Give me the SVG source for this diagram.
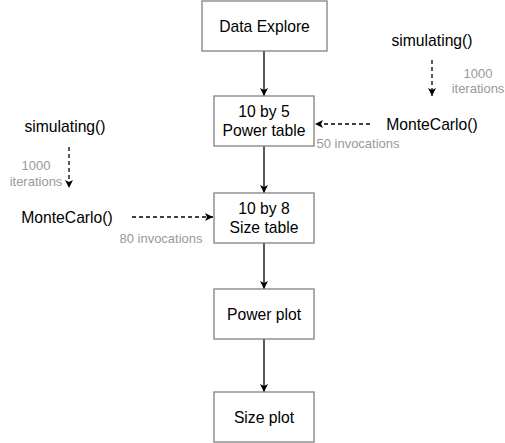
<svg xmlns="http://www.w3.org/2000/svg" width="505" height="443" viewBox="0 0 505 443">
<defs>
<marker id="ah" markerUnits="userSpaceOnUse" markerWidth="10" markerHeight="10" refX="8" refY="4" orient="auto">
<path d="M0,0 L8,4 L0,8 L2,4 Z" fill="#000"/>
</marker>
<style>
.box{fill:#fff;stroke:#808080;stroke-width:1.3}
.t{font-family:"Liberation Sans",Arial,sans-serif;font-size:15.7px;fill:#000;text-anchor:middle;dominant-baseline:central}
.g{font-family:"Liberation Sans",Arial,sans-serif;font-size:13px;fill:#999;text-anchor:middle;dominant-baseline:central}
.c{stroke:#000;stroke-width:1.3;fill:none;marker-end:url(#ah)}
.d{stroke-dasharray:4 3}
</style>
</defs>
<rect width="505" height="443" fill="#fff"/>
<g id="connectors">
<line class="c" x1="264" y1="51" x2="264" y2="96"/>
<line class="c" x1="264" y1="146" x2="264" y2="193"/>
<line class="c" x1="264" y1="243" x2="264" y2="289"/>
<line class="c" x1="264" y1="339" x2="264" y2="392"/>
<line class="c d" x1="432" y1="60" x2="432" y2="96"/>
<line class="c d" x1="370" y1="124" x2="315" y2="124"/>
<line class="c d" x1="69" y1="147" x2="69" y2="188"/>
<line class="c d" x1="132" y1="217" x2="213" y2="217"/>
<text class="g" x="478" y="73">1000</text>
<text class="g" x="478" y="88">iterations</text>
<text class="g" x="36" y="165">1000</text>
<text class="g" x="36" y="181">iterations</text>
<text class="g" x="358" y="143">50 invocations</text>
<text class="g" x="161" y="238">80 invocations</text>
</g>
<g id="data-explore"><rect class="box" x="202" y="1" width="125" height="50"/><text class="t" x="264.5" y="26">Data Explore</text></g>
<g id="power-table"><rect class="box" x="214" y="96" width="100" height="50"/><text class="t" x="264" y="111">10 by 5</text><text class="t" x="264" y="130">Power table</text></g>
<g id="size-table"><rect class="box" x="214" y="193" width="100" height="50"/><text class="t" x="264" y="208">10 by 8</text><text class="t" x="264" y="227">Size table</text></g>
<g id="power-plot"><rect class="box" x="214" y="289" width="100" height="50"/><text class="t" x="264" y="314">Power plot</text></g>
<g id="size-plot"><rect class="box" x="214" y="392" width="100" height="50"/><text class="t" x="264" y="417">Size plot</text></g>
<g id="simulating-right"><text class="t" x="432" y="40">simulating()</text></g>
<g id="montecarlo-right"><text class="t" x="432" y="124">MonteCarlo()</text></g>
<g id="simulating-left"><text class="t" x="65" y="126">simulating()</text></g>
<g id="montecarlo-left"><text class="t" x="67" y="217">MonteCarlo()</text></g>
</svg>
